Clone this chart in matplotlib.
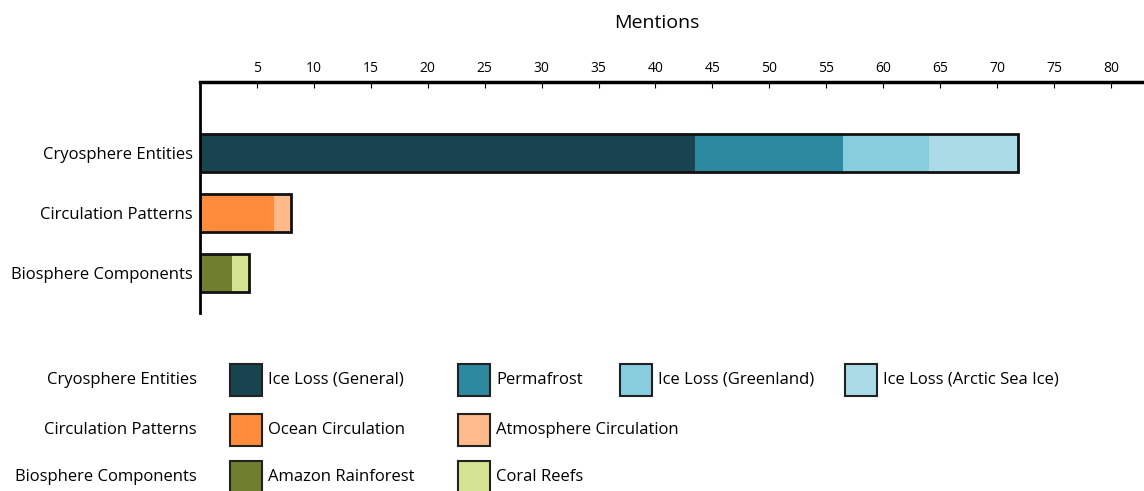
import matplotlib.pyplot as plt
from matplotlib.patches import Rectangle

plt.rcParams['font.family'] = ['Open Sans', 'DejaVu Sans']

# data
groups = ["Cryosphere Entities", "Circulation Patterns", "Biosphere Components"]
cryo_labels = ["Ice Loss (General)", "Permafrost", "Ice Loss (Greenland)", "Ice Loss (Arctic Sea Ice)"]
cryo_values = [43.5, 13.0, 7.5, 7.8]
cryo_colors = ["#18444f", "#2c89a0", "#87cddd", "#acdbe8"]
circ_labels = ["Ocean Circulation", "Atmosphere Circulation"]
circ_values = [6.5, 1.5]
circ_colors = ["#ff8c3a", "#ffb98a"]
bio_labels = ["Amazon Rainforest", "Coral Reefs"]
bio_values = [2.8, 1.5]
bio_colors = ["#6e7f30", "#d4e391"]
xticks = list(range(5, 85, 5))

series = [
    (cryo_labels, cryo_values, cryo_colors),
    (circ_labels, circ_values, circ_colors),
    (bio_labels, bio_values, bio_colors),
]

W, H = 1144, 491
fig = plt.figure(figsize=(W / 100, H / 100), dpi=100)
ax = fig.add_axes([200 / W, (H - 313) / H, (W - 200) / W, (313 - 82) / H])

for i, (labels, values, colors) in enumerate(series):
    left = 0
    for lab, v, c in zip(labels, values, colors):
        ax.barh(i, v, left=left, height=0.63, color=c, edgecolor="none")
        left += v
    ax.barh(i, sum(values), height=0.63, fill=False, edgecolor="#111111", linewidth=2)

ax.set_ylim(2.67, -1.18)
ax.set_xlim(0, 82.9)
ax.set_yticks(range(len(groups)))
ax.set_yticklabels(groups, fontsize=12)
ax.tick_params(axis="y", length=0, pad=5)
ax.xaxis.tick_top()
ax.xaxis.set_label_position("top")
ax.set_xticks(xticks)
ax.tick_params(axis="x", labelsize=10, length=4, width=0.8, pad=4, direction="in")
ax.set_xlabel("Mentions", fontsize=14)
ax.xaxis.set_label_coords(0.484, 1.0 + 54 / 231)
for s in ["right", "bottom"]:
    ax.spines[s].set_visible(False)
ax.spines["top"].set_linewidth(2.5)
ax.spines["left"].set_linewidth(2)

# legend drawn in pixel coordinates
lax = fig.add_axes([0, 0, 1, 1])
lax.set_xlim(0, W)
lax.set_ylim(H, 0)
lax.axis("off")
row_y = [380, 430, 477]
col_x = [230, 458, 620, 845]
for (labels, values, colors), gname, y in zip(series, groups, row_y):
    lax.text(197, y, gname, ha="right", va="center", fontsize=12)
    for lab, c, x in zip(labels, colors, col_x):
        lax.add_patch(Rectangle((x, y - 16), 32, 32, facecolor=c, edgecolor="#222222", linewidth=1.5))
        lax.text(x + 38, y, lab, ha="left", va="center", fontsize=12)

fig.savefig("out.png", dpi=100)
